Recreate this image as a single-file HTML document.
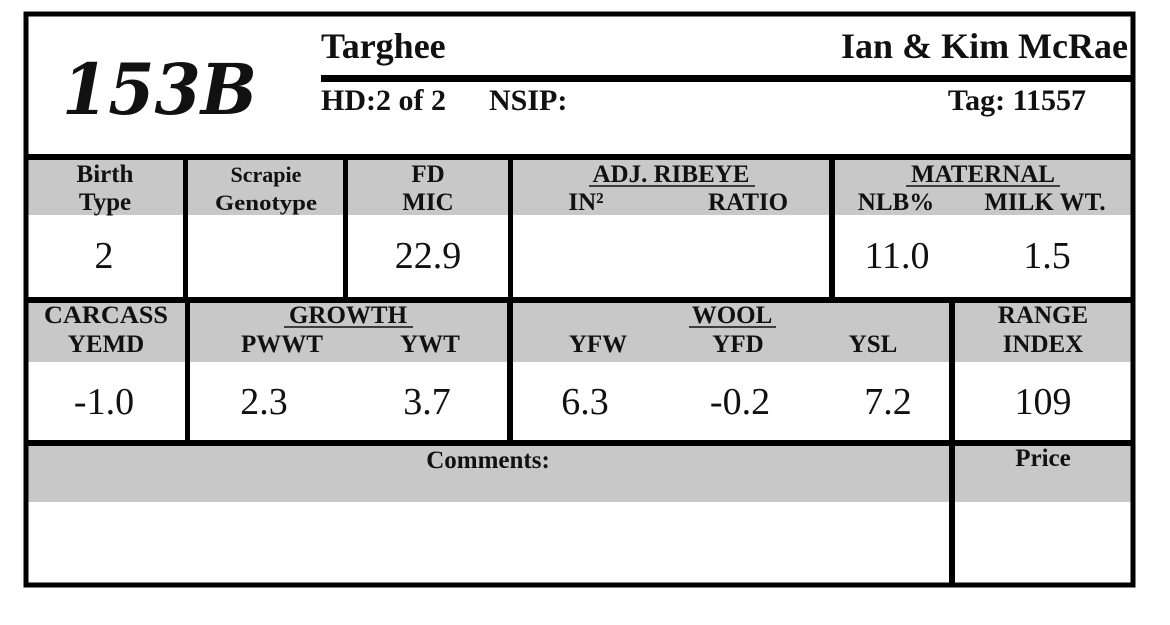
<!DOCTYPE html>
<html><head><style>
html,body{margin:0;padding:0;background:#fff;}
svg{display:block;}
text{font-family:"Liberation Serif",serif;fill:#111;}
.h{font-weight:bold;font-size:25px;}
.hs{font-weight:bold;font-size:22px;}
.v{font-size:38px;}
</style></head><body>
<svg width="1170" height="625" viewBox="0 0 1170 625" xmlns="http://www.w3.org/2000/svg">
<rect width="1170" height="625" fill="#fff"/>
<rect x="26" y="158" width="1107" height="57" fill="#c8c8c8"/>
<rect x="26" y="302" width="1107" height="60" fill="#c8c8c8"/>
<rect x="26" y="446" width="1107" height="56" fill="#c8c8c8"/>
<rect x="26" y="14" width="1107" height="571" fill="none" stroke="#000" stroke-width="5"/>
<rect x="24" y="154" width="1111" height="6" fill="#000"/>
<rect x="321" y="75" width="812" height="7" fill="#000"/>
<rect x="24" y="297" width="1111" height="6" fill="#000"/>
<rect x="24" y="440" width="1111" height="6" fill="#000"/>
<rect x="183" y="158" width="5" height="142" fill="#000"/>
<rect x="343" y="158" width="5" height="142" fill="#000"/>
<rect x="508" y="158" width="5" height="142" fill="#000"/>
<rect x="829" y="158" width="6" height="142" fill="#000"/>
<rect x="185" y="300" width="5" height="143" fill="#000"/>
<rect x="507" y="300" width="6" height="143" fill="#000"/>
<rect x="949" y="300" width="6" height="285" fill="#000"/>

<text x="62" y="114" style="font-family:'DejaVu Serif',serif;font-style:italic;font-weight:bold;font-size:70px" textLength="195" lengthAdjust="spacingAndGlyphs">153B</text>
<text x="321" y="58" style="font-weight:bold;font-size:36px">Targhee</text>
<text x="1128" y="58" text-anchor="end" style="font-weight:bold;font-size:36px">Ian &amp; Kim McRae</text>
<text x="321" y="110" style="font-weight:bold;font-size:30px">HD:2 of 2</text>
<text x="489" y="110" style="font-weight:bold;font-size:30px">NSIP:</text>
<text x="1086" y="110" text-anchor="end" style="font-weight:bold;font-size:30px">Tag: 11557</text>

<text class="h" x="105" y="182" text-anchor="middle">Birth</text>
<text class="h" x="105" y="210" text-anchor="middle">Type</text>
<text class="hs" x="266" y="182" text-anchor="middle">Scrapie</text>
<text class="hs" x="266" y="210" text-anchor="middle" textLength="102" lengthAdjust="spacingAndGlyphs">Genotype</text>
<text class="h" x="428" y="182" text-anchor="middle">FD</text>
<text class="h" x="428" y="210" text-anchor="middle">MIC</text>
<text class="h" x="671" y="182" text-anchor="middle">ADJ. RIBEYE</text>
<line x1="589" y1="186" x2="755" y2="186" stroke="#111" stroke-width="1.5"/>
<text class="h" x="586" y="210" text-anchor="middle">IN²</text>
<text class="h" x="748" y="210" text-anchor="middle">RATIO</text>
<text class="h" x="983" y="182" text-anchor="middle">MATERNAL</text>
<line x1="906" y1="186" x2="1060" y2="186" stroke="#111" stroke-width="1.5"/>
<text class="h" x="896" y="210" text-anchor="middle">NLB%</text>
<text class="h" x="1045" y="210" text-anchor="middle">MILK WT.</text>
<text class="v" x="104" y="268" text-anchor="middle">2</text>
<text class="v" x="428" y="268" text-anchor="middle">22.9</text>
<text class="v" x="897" y="268" text-anchor="middle">11.0</text>
<text class="v" x="1047" y="268" text-anchor="middle">1.5</text>

<text class="h" x="106" y="323" text-anchor="middle" textLength="124" lengthAdjust="spacingAndGlyphs">CARCASS</text>
<text class="h" x="106" y="352" text-anchor="middle">YEMD</text>
<text class="h" x="348" y="323" text-anchor="middle">GROWTH</text>
<line x1="284" y1="327" x2="413" y2="327" stroke="#111" stroke-width="1.5"/>
<text class="h" x="282" y="352" text-anchor="middle">PWWT</text>
<text class="h" x="430" y="352" text-anchor="middle">YWT</text>
<text class="h" x="732" y="323" text-anchor="middle">WOOL</text>
<line x1="689" y1="327" x2="776" y2="327" stroke="#111" stroke-width="1.5"/>
<text class="h" x="598" y="352" text-anchor="middle">YFW</text>
<text class="h" x="738" y="352" text-anchor="middle">YFD</text>
<text class="h" x="873" y="352" text-anchor="middle">YSL</text>
<text class="h" x="1043" y="323" text-anchor="middle">RANGE</text>
<text class="h" x="1043" y="352" text-anchor="middle">INDEX</text>
<text class="v" x="104" y="414" text-anchor="middle">-1.0</text>
<text class="v" x="264" y="414" text-anchor="middle">2.3</text>
<text class="v" x="427" y="414" text-anchor="middle">3.7</text>
<text class="v" x="585" y="414" text-anchor="middle">6.3</text>
<text class="v" x="740" y="414" text-anchor="middle">-0.2</text>
<text class="v" x="888" y="414" text-anchor="middle">7.2</text>
<text class="v" x="1043" y="414" text-anchor="middle">109</text>

<text class="h" x="488" y="468" text-anchor="middle">Comments:</text>
<text class="h" x="1043" y="466" text-anchor="middle">Price</text>
</svg>
</body></html>
